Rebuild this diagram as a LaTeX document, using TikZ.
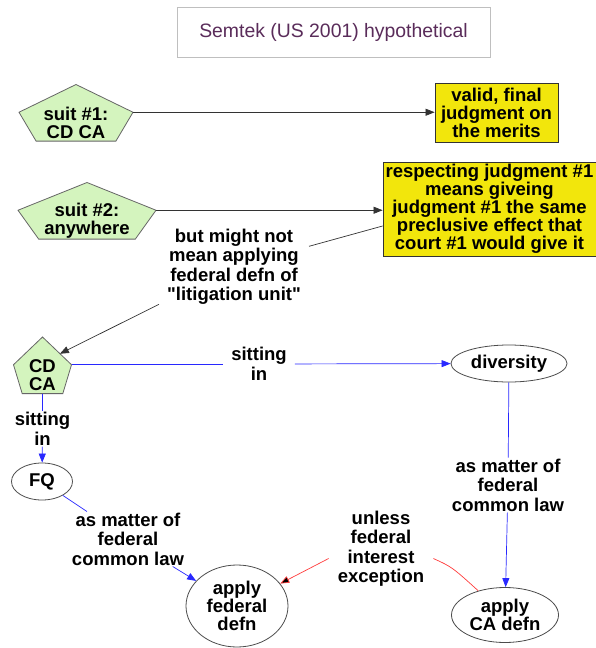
\documentclass[tikz,border=0pt]{standalone}
\usepackage{fontspec}
\setmainfont{Liberation Sans}[Ligatures=TeXOff]
\usetikzlibrary{shapes.geometric,arrows.meta,backgrounds}

\definecolor{pentgreen}{RGB}{212,244,190}
\definecolor{boxyellow}{RGB}{242,230,12}
\definecolor{titlepurple}{RGB}{90,44,90}
\definecolor{edgeblue}{RGB}{40,40,255}
\definecolor{edgered}{RGB}{255,60,60}

% pentagon drawn behind a text node: node name, half width
\newcommand{\drawpent}[2]{%
  \begin{pgfonlayer}{background}
    \begin{scope}[shift={(#1.center)},x=#2pt,y=38pt]
      \filldraw[pent] (0,1) -- (1,0.27) -- (0.7,-0.49) -- (-0.7,-0.49) -- (-1,0.27) -- cycle;
      \coordinate (#1-e) at (1,0.27);
      \coordinate (#1-ne) at (0.6,0.56);
      \coordinate (#1-s) at (0,-0.49);
    \end{scope}
  \end{pgfonlayer}}

\begin{document}
\begin{tikzpicture}[x=1pt,y=-1pt,
    txt/.style={font=\bfseries\fontsize{18.5}{18}\selectfont,align=center},
    pent/.style={fill=pentgreen,draw=black!60,line width=0.8pt},
    pnode/.style={txt,inner sep=0pt},
    ybox/.style={txt,rectangle,fill=boxyellow,draw=black!80,line width=0.8pt,inner sep=1pt},
    ell/.style={txt,ellipse,draw=black!70,fill=white,line width=0.8pt,inner sep=0pt},
    lbl/.style={font=\bfseries\fontsize{18.5}{19.5}\selectfont,align=center,inner xsep=8pt,inner ysep=1pt},
    tip/.style={-{Triangle[length=9pt,width=7pt]}},
    edge/.style={draw=black!80,line width=0.7pt},
    bedge/.style={draw=edgeblue,line width=0.7pt},
    redge/.style={draw=edgered,line width=0.7pt}]
  \begin{pgfonlayer}{background}
    \fill[white] (0,0) rectangle (596,648);
  \end{pgfonlayer}
  \useasboundingbox (0,0) rectangle (596,648);

  % title
  \node[draw=black!25,line width=0.8pt,minimum width=313pt,minimum height=50pt,
    text=titlepurple,font=\fontsize{19.4}{20}\selectfont] (title) at (333.5,32) {Semtek (US 2001) hypothetical};

  % nodes
  \node[pnode] (s1) at (76,122.5) {suit \#1:\\CD CA};
  \drawpent{s1}{57}
  \node[ybox,minimum width=123pt,minimum height=59pt] (valid) at (496.5,112.5) {valid, final\\judgment on\\the merits};
  \node[pnode] (s2) at (87,220.5) {suit \#2:\\anywhere};
  \drawpent{s2}{69}
  \node[ybox,minimum width=213pt,minimum height=94pt] (rs) at (489.5,209) {respecting judgment \#1\\means giveing\\judgment \#1 the same\\preclusive effect that\\court \#1 would give it};
  \node[pnode] (cd) at (42.5,375) {CD\\CA};
  \drawpent{cd}{29}
  \node[ell,minimum width=116pt,minimum height=37pt] (div) at (509,363.5) {diversity};
  \node[ell,minimum width=61pt,minimum height=37pt] (fq) at (42,481.5) {FQ};
  \node[ell,minimum width=102pt,minimum height=82pt] (fed) at (237,606) {apply\\federal\\defn};
  \node[ell,minimum width=107pt,minimum height=55pt] (ca) at (505,615) {apply\\CA defn};

  % edge labels
  \node[lbl] (annot) at (234,267) {but might not\\mean applying\\federal defn of\\"litigation unit"};
  \node[lbl] (sit1) at (259,364) {sitting\\in};
  \node[lbl,inner xsep=2pt] (sit2) at (42.5,429) {sitting\\in};
  \node[lbl,inner xsep=2pt] (fcl1) at (128,539) {as matter of\\federal\\common law};
  \node[lbl,inner xsep=2pt] (fcl2) at (508,485) {as matter of\\federal\\common law};
  \node[lbl,inner xsep=9pt] (unl) at (381,548.5) {unless\\federal\\interest\\exception};

  % connectors
  \draw[edge,tip] (s1-e) -- (s1-e -| valid.west);
  \draw[edge,tip] (s2-e) -- (s2-e -| rs.west);
  \draw[edge] ([yshift=-17pt]rs.west) -- (annot);
  \draw[edge,tip] (annot) -- (cd-ne);
  \draw[bedge] (cd-e) -- (cd-e -| sit1.west);
  \draw[bedge,tip] (sit1) -- (div);
  \draw[bedge] (cd-s) -- (sit2);
  \draw[bedge,tip] (sit2) -- (fq);
  \draw[bedge] (div) -- (fcl2);
  \draw[bedge,tip] (fcl2) -- (ca);
  \draw[bedge] (fq) -- (fcl1);
  \draw[bedge,tip] (fcl1) -- (fed);
  \draw[redge] (ca) .. controls (452,567) .. ([yshift=-10pt]unl.east);
  \draw[redge,-{Triangle[length=9pt,width=7pt,fill=black]}] ([yshift=-10pt]unl.west) -- (fed);
\end{tikzpicture}
\end{document}
